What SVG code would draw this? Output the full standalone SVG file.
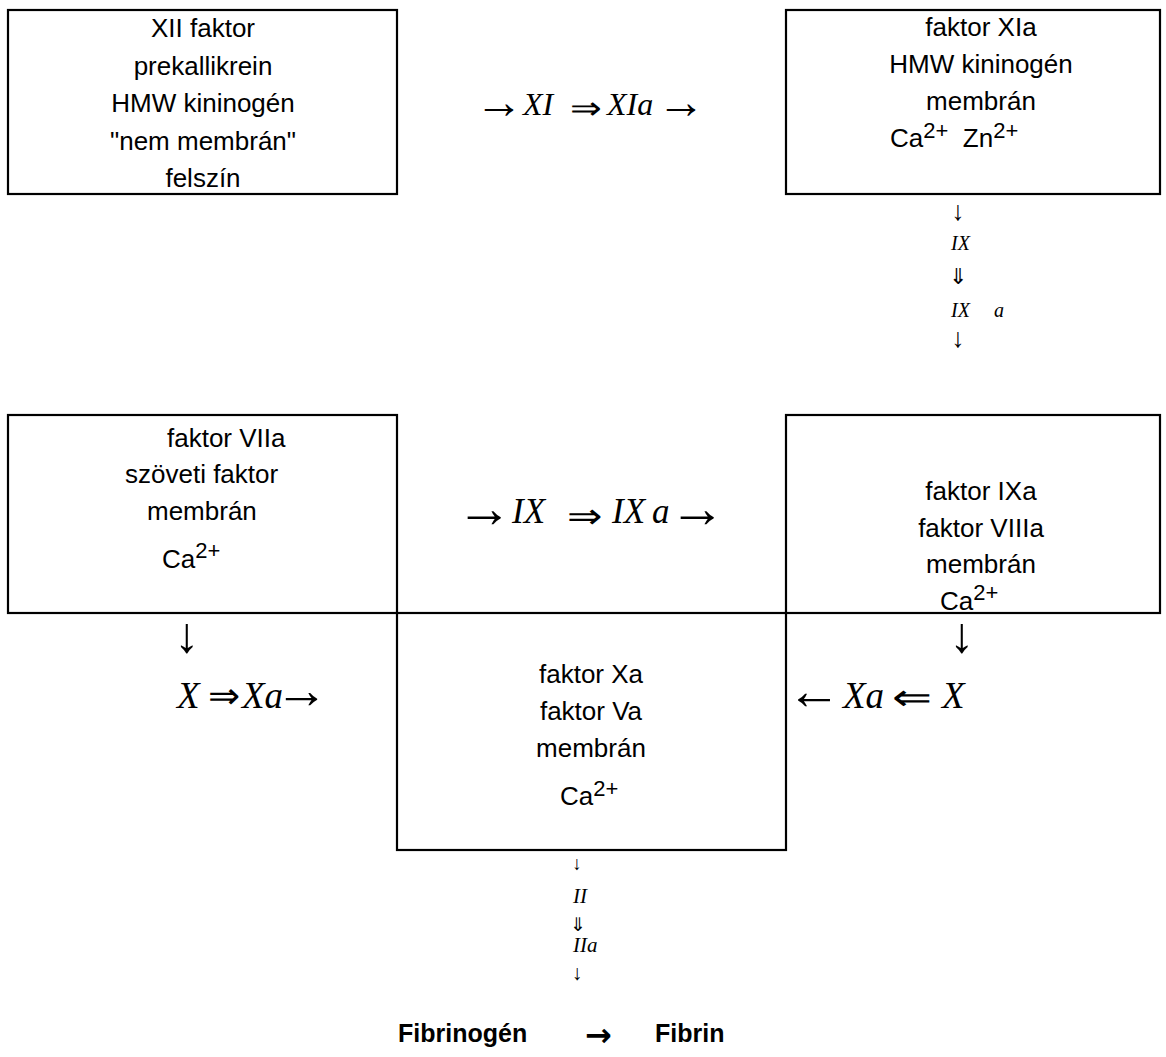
<svg xmlns="http://www.w3.org/2000/svg" width="1166" height="1057" viewBox="0 0 1166 1057">
<style>
.box{fill:none;stroke:#000;stroke-width:2.2}
.t{font-family:"Liberation Sans",Arial,sans-serif;font-size:26px;fill:#000}
.c{text-anchor:middle}
.sup{font-size:22px}
.m{font-family:"Liberation Serif","Times New Roman",serif;font-style:italic;fill:#000}
.a{font-family:"Liberation Serif","Times New Roman",serif;font-style:normal;fill:#000}
.d{font-family:"DejaVu Sans",sans-serif;font-weight:200;font-style:normal;fill:#000}
.b{font-family:"Liberation Sans",Arial,sans-serif;font-weight:bold;font-size:25px;fill:#000}
.ba{font-family:"DejaVu Sans",sans-serif;font-weight:bold;font-size:32px;fill:#000}
</style>
<rect width="1166" height="1057" fill="#fff"/>

<g id="node-xii">
<rect class="box" x="8" y="10" width="389" height="184"/>
<text class="t c" x="203" y="37">XII faktor</text>
<text class="t c" x="203" y="74.5">prekallikrein</text>
<text class="t c" x="203" y="112">HMW kininogén</text>
<text class="t c" x="203" y="149.5">"nem membrán"</text>
<text class="t c" x="203" y="187">felszín</text>
</g>

<g id="node-xia">
<rect class="box" x="786" y="10" width="374" height="184"/>
<text class="t c" x="981" y="36">faktor XIa</text>
<text class="t c" x="981" y="73">HMW kininogén</text>
<text class="t c" x="981" y="110">membrán</text>
<text class="t" x="890" y="147">Ca<tspan class="sup" dy="-9">2+</tspan><tspan dy="9" xml:space="preserve">  Zn</tspan><tspan class="sup" dy="-9">2+</tspan></text>
</g>

<g id="node-viia">
<rect class="box" x="8" y="415" width="389" height="198"/>
<text class="t" x="167" y="447">faktor VIIa</text>
<text class="t" x="125" y="483">szöveti faktor</text>
<text class="t" x="147" y="520">membrán</text>
<text class="t" x="162" y="568">Ca<tspan class="sup" dy="-10">2+</tspan></text>
</g>

<g id="node-ixa">
<rect class="box" x="786" y="415" width="374" height="198"/>
<text class="t c" x="981" y="500">faktor IXa</text>
<text class="t c" x="981" y="537">faktor VIIIa</text>
<text class="t c" x="981" y="573">membrán</text>
<text class="t" x="940" y="610">Ca<tspan class="sup" dy="-10">2+</tspan></text>
</g>

<g id="node-xa">
<rect class="box" x="397" y="613" width="389" height="237"/>
<text class="t c" x="591" y="683">faktor Xa</text>
<text class="t c" x="591" y="720">faktor Va</text>
<text class="t c" x="591" y="757">membrán</text>
<text class="t" x="560" y="805">Ca<tspan class="sup" dy="-9">2+</tspan></text>
</g>

<g id="node-fibrin">
<text class="b" x="398" y="1042">Fibrinogén</text>
<text class="ba" x="585" y="1046">→</text>
<text class="b" x="655" y="1042">Fibrin</text>
</g>

<g id="connectors">
<!-- top row: XI activation -->
<text class="a" x="475" y="118" font-size="48">→</text>
<text class="m" x="523" y="115" font-size="32">XI</text>
<text class="d" x="570" y="119" font-size="32" textLength="32" lengthAdjust="spacingAndGlyphs">⇒</text>
<text class="m" x="607" y="115" font-size="32">XIa</text>
<text class="a" x="657" y="118" font-size="48">→</text>

<!-- right chain IX -->
<text class="a c" x="958" y="220" font-size="27">↓</text>
<text class="m" x="951" y="250" font-size="20">IX</text>
<text class="d c" x="958" y="284" font-size="22">⇓</text>
<text class="m" x="951" y="317" font-size="20">IX<tspan x="994">a</tspan></text>
<text class="a c" x="958" y="347" font-size="27">↓</text>

<!-- middle row -->
<text class="a" x="456" y="527" font-size="56">→</text>
<text class="m" x="512" y="523" font-size="35">IX</text>
<text class="d" x="567" y="528" font-size="35" textLength="35" lengthAdjust="spacingAndGlyphs">⇒</text>
<text class="m" x="612" y="523" font-size="35">IX<tspan x="652">a</tspan></text>
<text class="a" x="669" y="527" font-size="56">→</text>

<!-- left X activation -->
<text class="a c" x="187" y="652" font-size="50">↓</text>
<text class="m" x="177" y="708" font-size="37">X</text>
<text class="d" x="208" y="708" font-size="36" textLength="32" lengthAdjust="spacingAndGlyphs">⇒</text>
<text class="m" x="242" y="708" font-size="37">Xa</text>
<text class="a" x="275" y="708" font-size="53">→</text>

<!-- right X activation -->
<text class="a c" x="962" y="652" font-size="50">↓</text>
<text class="a" x="787" y="709" font-size="54">←</text>
<text class="m" x="843" y="708" font-size="37">Xa</text>
<text class="d" x="892" y="710" font-size="37" textLength="40" lengthAdjust="spacingAndGlyphs">⇐</text>
<text class="m" x="942" y="708" font-size="37">X</text>

<!-- bottom chain II -->
<text class="a c" x="577" y="870" font-size="19">↓</text>
<text class="m" x="573" y="903" font-size="21">II</text>
<text class="d c" x="578" y="931" font-size="19">⇓</text>
<text class="m" x="573" y="952" font-size="21">IIa</text>
<text class="a c" x="577" y="980" font-size="21">↓</text>
</g>
</svg>
